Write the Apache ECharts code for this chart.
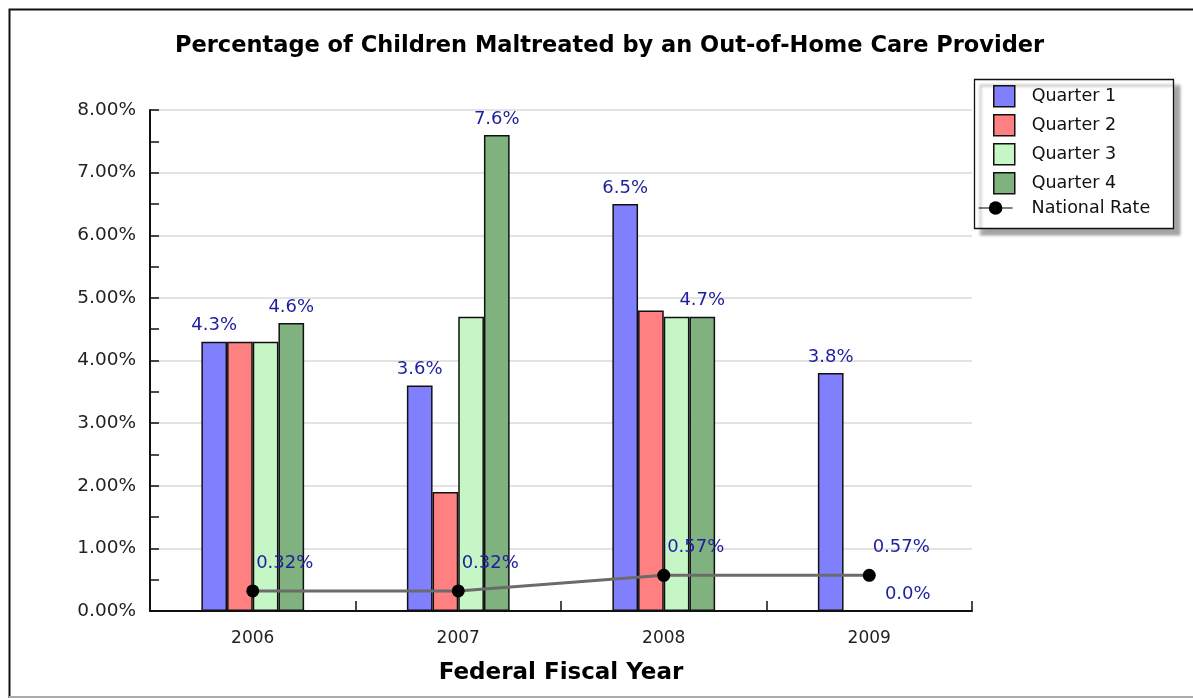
<!DOCTYPE html>
<html>
<head>
<meta charset="utf-8">
<title>Percentage of Children Maltreated by an Out-of-Home Care Provider</title>
<script src="https://cdn.jsdelivr.net/npm/echarts@6/dist/echarts.min.js"></script>
<style>
  html, body { margin: 0; padding: 0; background: #fff; }
  #chart { width: 1193px; height: 698px; }
</style>
</head>
<body>
<div id="chart"></div>
<script>
// Fiscal years on the category axis
const years = ['2006', '2007', '2008', '2009'];

// Quarterly maltreatment rates (percent)
const quarter1 = [4.3, 3.6, 6.5, 3.8];
const quarter2 = [4.3, 1.9, 4.8, null];
const quarter3 = [4.3, 4.7, 4.7, null];
const quarter4 = [4.6, 7.6, 4.7, 0.0];

// National reference rate (percent)
const nationalRate = [0.32, 0.32, 0.57, 0.57];

// Value axis range and step (percent)
const yMin = 0;
const yMax = 8;
const yStep = 1;

const labelBlue = '#1e1ea0';
const textFont = 'DejaVu Sans';

function barSeries(name, data, color, showLabel) {
  return {
    name: name,
    type: 'bar',
    data: data,
    barGap: '0%',
    barCategoryGap: '50%',
    itemStyle: { color: color, borderColor: '#111', borderWidth: 1.5 },
    label: {
      show: showLabel,
      position: 'top',
      distance: 7,
      color: labelBlue,
      fontFamily: textFont,
      fontSize: 18,
      formatter: p => p.value.toFixed(1) + '%'
    },
    z: 2
  };
}

const chart = echarts.init(document.getElementById('chart'), null, { renderer: 'canvas' });

chart.setOption({
  animation: false,
  backgroundColor: '#fff',
  title: {
    text: 'Percentage of Children Maltreated by an Out-of-Home Care Provider',
    left: 170,
    top: 30,
    padding: 5,
    textStyle: { fontFamily: textFont, fontWeight: 'bold', fontSize: 22.5, color: '#000' }
  },
  grid: { left: 150, right: 221, top: 110, bottom: 87, containLabel: false },
  legend: [
    {
      data: ['Quarter 1', 'Quarter 2', 'Quarter 3', 'Quarter 4'],
      orient: 'vertical',
      left: 993,
      top: 85,
      padding: 0,
      itemWidth: 21,
      itemHeight: 21,
      itemGap: 6.5,
      icon: 'rect',
      itemStyle: { borderColor: '#111', borderWidth: 1.5 },
      textStyle: { fontFamily: textFont, fontSize: 17.5, color: '#111', padding: [0, 0, 0, 12] },
      selectedMode: false,
      z: 10
    },
    {
      data: ['National Rate'],
      orient: 'vertical',
      left: 978,
      top: 199,
      padding: 0,
      itemWidth: 34,
      itemHeight: 17,
      lineStyle: { color: '#000', width: 1.2 },
      itemStyle: { color: '#000' },
      textStyle: { fontFamily: textFont, fontSize: 17.5, color: '#111', padding: [0, 0, 0, 14] },
      selectedMode: false,
      z: 10
    }
  ],
  xAxis: {
    type: 'category',
    data: years,
    boundaryGap: true,
    name: 'Federal Fiscal Year',
    nameLocation: 'middle',
    nameGap: 51,
    nameTextStyle: { fontFamily: textFont, fontWeight: 'bold', fontSize: 23, color: '#000' },
    axisLine: { lineStyle: { color: '#111', width: 2 } },
    axisTick: { show: true, inside: true, length: 10, lineStyle: { color: '#111', width: 1.5 } },
    axisLabel: { fontFamily: textFont, fontSize: 17, color: '#222', margin: 19 },
    splitLine: { show: false }
  },
  yAxis: {
    type: 'value',
    min: yMin,
    max: yMax,
    interval: yStep,
    axisLine: { show: true, lineStyle: { color: '#111', width: 2 } },
    axisTick: { show: true, inside: true, length: 9, lineStyle: { color: '#111', width: 1.5 } },
    minorTick: { show: true, splitNumber: 2, length: 9, lineStyle: { color: '#111', width: 1.5 } },
    axisLabel: {
      fontFamily: textFont,
      fontSize: 18.5,
      color: '#222',
      margin: 14,
      formatter: v => v.toFixed(2) + '%'
    },
    splitLine: { show: true, lineStyle: { color: '#dadada', width: 1.5 } }
  },
  series: [
    barSeries('Quarter 1', quarter1, '#8080ff', true),
    barSeries('Quarter 2', quarter2, '#ff8080', false),
    barSeries('Quarter 3', quarter3, '#c6f5c6', false),
    barSeries('Quarter 4', quarter4, '#7fb27f', true),
    {
      name: 'National Rate',
      type: 'line',
      data: nationalRate,
      symbol: 'circle',
      symbolSize: 13,
      itemStyle: { color: '#000' },
      lineStyle: { color: '#6b6b6b', width: 3 },
      label: {
        show: true,
        position: 'top',
        distance: 5,
        offset: [32, -7],
        color: labelBlue,
        fontFamily: textFont,
        fontSize: 18,
        formatter: p => p.value.toFixed(2) + '%'
      },
      z: 5
    }
  ],
  graphic: [
    // legend panel with drop shadow
    {
      type: 'rect',
      z: 1,
      shape: { x: 974.5, y: 79.5, width: 199, height: 149 },
      style: {
        fill: '#fff',
        stroke: '#111',
        lineWidth: 1.3,
        shadowBlur: 3,
        shadowOffsetX: 6,
        shadowOffsetY: 6,
        shadowColor: 'rgba(0,0,0,0.35)'
      }
    },
    // outer frame
    {
      type: 'polyline',
      z: 20,
      shape: { points: [[9.5, 698], [9.5, 9.5], [1193, 9.5]] },
      style: { stroke: '#111', lineWidth: 2, fill: null }
    },
    {
      type: 'line',
      z: 20,
      shape: { x1: 9, y1: 697, x2: 1193, y2: 697 },
      style: { stroke: '#aaa', lineWidth: 2 }
    }
  ]
});
</script>
</body>
</html>
